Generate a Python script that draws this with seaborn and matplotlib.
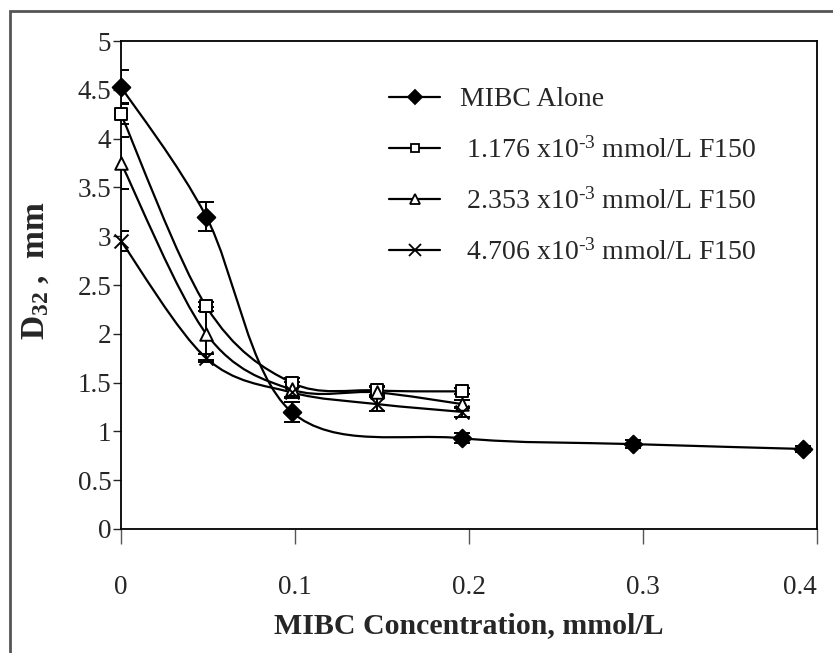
import numpy as np
import matplotlib
matplotlib.use("Agg")
import matplotlib.pyplot as plt
import seaborn as sns
from matplotlib.path import Path
from matplotlib.patches import PathPatch, Rectangle
from matplotlib.lines import Line2D

# MIBC concentration (mmol/L)
mibc_x = [0, 0.049, 0.098, 0.196, 0.294, 0.392]
f150_x = [0, 0.049, 0.098, 0.147, 0.196]

# D32 (mm) and error bars
mibc_y = [4.53, 3.20, 1.20, 0.93, 0.87, 0.82]
mibc_err = [0.17, 0.15, 0.10, 0.05, 0.04, 0.03]

f1_y = [4.25, 2.28, 1.50, 1.42, 1.41]
f1_err = [0.10, 0.05, 0.05, 0.05, 0.03]

f2_y = [3.75, 2.00, 1.43, 1.40, 1.28]
f2_err = [0.27, 0.27, 0.08, 0.05, 0.04]

f3_y = [2.95, 1.75, 1.40, 1.28, 1.20]
f3_err = [0.10, 0.04, 0.06, 0.07, 0.05]

labels = ["MIBC Alone",
          r" 1.176 x10$^{\text{-3}}$ mmol/L F150",
          r" 2.353 x10$^{\text{-3}}$ mmol/L F150",
          r" 4.706 x10$^{\text{-3}}$ mmol/L F150"]

series = [
    (mibc_x, mibc_y, mibc_err, "D", "black", 9),
    (f150_x, f1_y, f1_err, "s", "white", 8),
    (f150_x, f2_y, f2_err, "^", "white", 9),
    (f150_x, f3_y, f3_err, "x", "black", 10),
]

sns.set_style("white")
plt.rcParams["font.family"] = ["Liberation Serif", "DejaVu Serif"]
plt.rcParams["mathtext.fontset"] = "custom"
plt.rcParams["mathtext.rm"] = "Liberation Serif"
plt.rcParams["mathtext.it"] = "Liberation Serif:italic"
plt.rcParams["mathtext.bf"] = "Liberation Serif:bold"


def smooth_path(xs, ys):
    # Excel-like smoothed line: cubic Bezier with Catmull-Rom control points
    pts = np.column_stack([xs, ys]).astype(float)
    n = len(pts)
    verts = [pts[0]]
    codes = [Path.MOVETO]
    for i in range(n - 1):
        p0 = pts[i - 1] if i > 0 else pts[i]
        p1 = pts[i]
        p2 = pts[i + 1]
        p3 = pts[i + 2] if i + 2 < n else pts[i + 1]
        c1 = p1 + (p2 - p0) / 6
        c2 = p2 - (p3 - p1) / 6
        verts += [c1, c2, p2]
        codes += [Path.CURVE4] * 3
    return Path(verts, codes)


fig = plt.figure(figsize=(8.33, 6.53), dpi=100)
ax = fig.add_axes([121 / 833, 1 - 529 / 653, 696 / 833, 488 / 653])

for xs, ys, err, mk, fc, ms in series:
    ax.add_patch(PathPatch(smooth_path(xs, ys), fill=False, edgecolor="black",
                           lw=1.6, zorder=2))
    ax.errorbar(xs, ys, yerr=err, fmt="none", ecolor="black", elinewidth=1.4,
                capsize=6, capthick=1.4, zorder=3)
    sns.scatterplot(x=xs, y=ys, marker=mk, s=ms ** 2, facecolor=fc,
                    edgecolor="black", linewidth=1.4, ax=ax, zorder=4,
                    clip_on=False)

ax.set_xlim(0, 0.4)
ax.set_ylim(0, 5)
ax.set_xticks([0, 0.1, 0.2, 0.3, 0.4])
ax.set_xticklabels(["0", "0.1", "0.2", "0.3", "0.4"])
ax.set_yticks(np.arange(0, 5.01, 0.5))
ax.set_yticklabels(["0", "0.5", "1", "1.5", "2", "2.5", "3", "3.5", "4", "4.5", "5"])
ax.tick_params(axis="x", direction="out", length=11, width=1, pad=22,
               labelsize=19.5, bottom=True, color="#555555")
ax.tick_params(axis="y", direction="out", length=6, width=1, pad=1,
               labelsize=19.5, left=True)
ax.get_xticklabels()[-1].set_horizontalalignment("right")
for s in ax.spines.values():
    s.set_color("black")
    s.set_linewidth(1.3)

ax.set_xlabel("MIBC Concentration, mmol/L", fontsize=21.5, fontweight="bold")
ax.set_ylabel(r"$\mathbf{D}_{\mathbf{32}}$ ,  mm", fontsize=24, fontweight="bold")
ax.xaxis.set_label_coords(0.5, -0.17)
ax.yaxis.set_label_coords(-0.1, 0.53)

handles = []
for xs, ys, err, mk, fc, ms in series:
    handles.append(Line2D([], [], color="black", lw=1.6, marker=mk,
                          markersize=ms * 0.8, markerfacecolor=fc,
                          markeredgecolor="black", markeredgewidth=1.3))
ax.legend(handles, labels, loc="upper left", frameon=False, fontsize=20,
          bbox_to_anchor=(389 / 833, 1 - 87 / 653), bbox_transform=fig.transFigure,
          borderpad=0, borderaxespad=0, handlelength=1.85, handletextpad=0.7,
          labelspacing=0.88)

fig.add_artist(Rectangle((10 / 833, -0.2), 2, 1.2 - 11 / 653,
                         transform=fig.transFigure, fill=False,
                         edgecolor="#555555", lw=2))

fig.savefig("out.png", dpi=100)
